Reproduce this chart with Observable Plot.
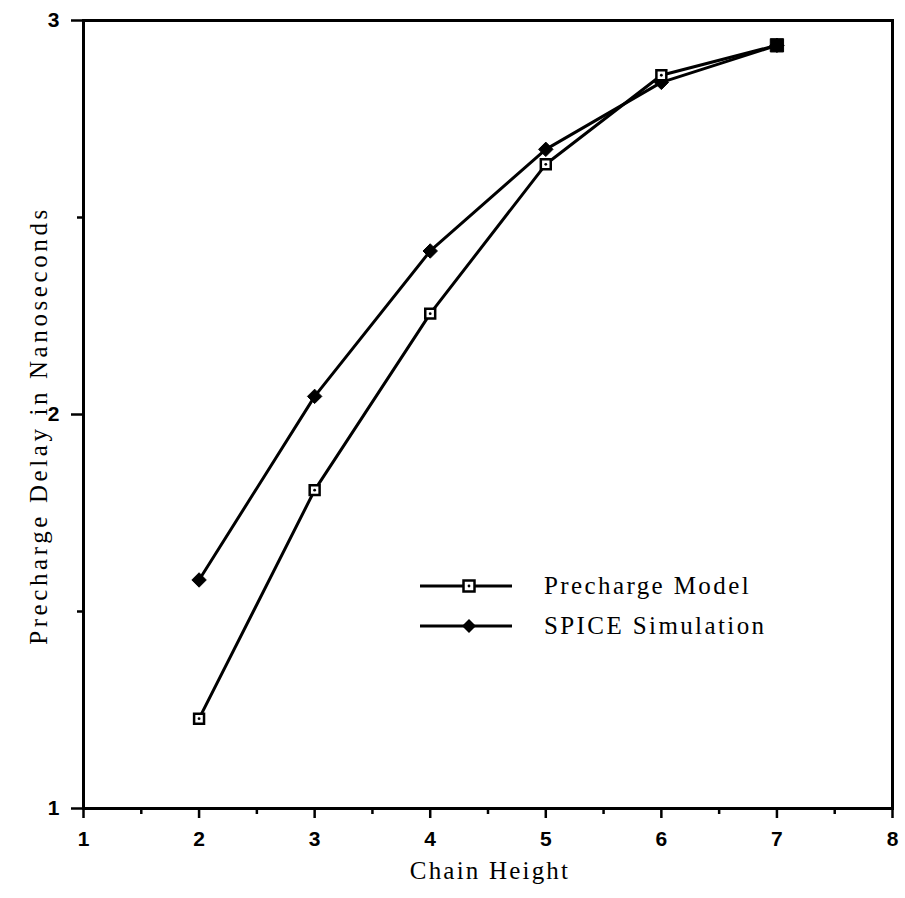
<!DOCTYPE html>
<html>
<head>
<meta charset="utf-8">
<script src="https://cdn.jsdelivr.net/npm/d3@7"></script>
<script src="https://cdn.jsdelivr.net/npm/@observablehq/plot@0.6"></script>
<style>
  body { margin: 0; background: #fff; }
  #wrap { position: relative; width: 905px; height: 898px; }
  #wrap svg g[aria-label$="tick label"] text { font-family: "Liberation Sans", Arial, sans-serif !important; font-weight: bold !important; font-size: 21px !important; }
  #legend { position: absolute; left: 418px; top: 566px; font-family: "Liberation Serif", serif; font-size: 25px; letter-spacing: 2.4px; color: #000; }
  .row { display: flex; align-items: center; height: 40px; }
  .row svg { margin-right: 30px; }
</style>
</head>
<body>
<div id="wrap"></div>
<script>
const chainHeight = [2, 3, 4, 5, 6, 7];
const prechargeModel = [1.228, 1.808, 2.256, 2.635, 2.861, 2.937];
const spiceSimulation = [1.580, 2.046, 2.415, 2.673, 2.843, 2.937];
const seriesNames = ["Precharge Model", "SPICE Simulation"];
const xTicks = [1, 2, 3, 4, 5, 6, 7, 8];
const xMinorTicks = [1.5, 2.5, 3.5, 4.5, 5.5, 6.5, 7.5];
const yTicks = [1, 2, 3];
const yMinorTicks = [1.5, 2.5];

const model = chainHeight.map((x, i) => ({x, y: prechargeModel[i], last: i === chainHeight.length - 1}));
const spice = chainHeight.map((x, i) => ({x, y: spiceSimulation[i]}));

const tickFont = {fontFamily: "Liberation Sans, Arial, sans-serif", fontWeight: "bold", fontSize: 21};

const chart = Plot.plot({
  width: 905,
  height: 898,
  marginLeft: 83,
  marginRight: 13,
  marginTop: 20,
  marginBottom: 90,
  x: {domain: [1, 8]},
  y: {domain: [1, 3]},
  style: {background: "white", color: "black"},
  marks: [
    Plot.frame({stroke: "black", strokeWidth: 3}),
    Plot.axisX({ticks: xTicks, tickSize: 10, tickPadding: 13, tickFormat: d3.format("d"), strokeWidth: 2.5, label: null, ...tickFont}),
    Plot.axisX({ticks: xMinorTicks, tickSize: 6, tickFormat: () => "", strokeWidth: 2.5, label: null}),
    Plot.axisY({ticks: yTicks, tickSize: 12, tickPadding: 12, tickFormat: d3.format("d"), strokeWidth: 2.5, label: null, ...tickFont}),
    Plot.axisY({ticks: yMinorTicks, tickSize: 6, tickFormat: () => "", strokeWidth: 2.5, label: null}),
    Plot.line(model, {x: "x", y: "y", stroke: "black", strokeWidth: 3}),
    Plot.line(spice, {x: "x", y: "y", stroke: "black", strokeWidth: 3}),
    Plot.dot(spice, {x: "x", y: "y", symbol: "diamond2", r: 6.5, fill: "black", stroke: "black", strokeWidth: 1}),
    Plot.dot(model.filter(d => !d.last), {x: "x", y: "y", symbol: "square", r: 5.6, fill: "white", stroke: "black", strokeWidth: 2.5}),
    Plot.dot(model.filter(d => !d.last), {x: "x", y: "y", r: 1.4, fill: "black"}),
    Plot.dot(model.filter(d => d.last), {x: "x", y: "y", symbol: "square", r: 7.5, fill: "black", stroke: "black", strokeWidth: 1}),
    Plot.text(["Chain Height"], {frameAnchor: "bottom", textAnchor: "middle", lineAnchor: "middle", dx: 2, dy: 62, fontFamily: "Liberation Serif, serif", fontSize: 25, fill: "black"}),
    Plot.text(["Precharge Delay in Nanoseconds"], {frameAnchor: "left", textAnchor: "middle", lineAnchor: "middle", dx: -45, dy: 11, rotate: -90, fontFamily: "Liberation Serif, serif", fontSize: 25, fill: "black"})
  ]
});
// letter spacing for the serif axis titles
chart.querySelectorAll("text").forEach(t => {
  const s = t.textContent;
  if (s === "Chain Height") t.setAttribute("letter-spacing", "2.2");
  else if (s === "Precharge Delay in Nanoseconds") t.setAttribute("letter-spacing", "3.6");
});
document.getElementById("wrap").appendChild(chart);

// legend
const legend = document.createElement("div");
legend.id = "legend";
const sym = [
  `<svg width="96" height="20"><line x1="2" y1="10" x2="94" y2="10" stroke="black" stroke-width="3"/><rect x="45.5" y="4.5" width="11" height="11" fill="white" stroke="black" stroke-width="2.5"/><circle cx="51" cy="10" r="1.4" fill="black"/></svg>`,
  `<svg width="96" height="20"><line x1="2" y1="10" x2="94" y2="10" stroke="black" stroke-width="3"/><path d="M51,3 L58,10 L51,17 L44,10 Z" fill="black"/></svg>`
];
seriesNames.forEach((name, i) => {
  const row = document.createElement("div");
  row.className = "row";
  row.innerHTML = sym[i];
  const span = document.createElement("span");
  span.textContent = name;
  row.appendChild(span);
  legend.appendChild(row);
});
document.getElementById("wrap").appendChild(legend);
</script>
</body>
</html>
